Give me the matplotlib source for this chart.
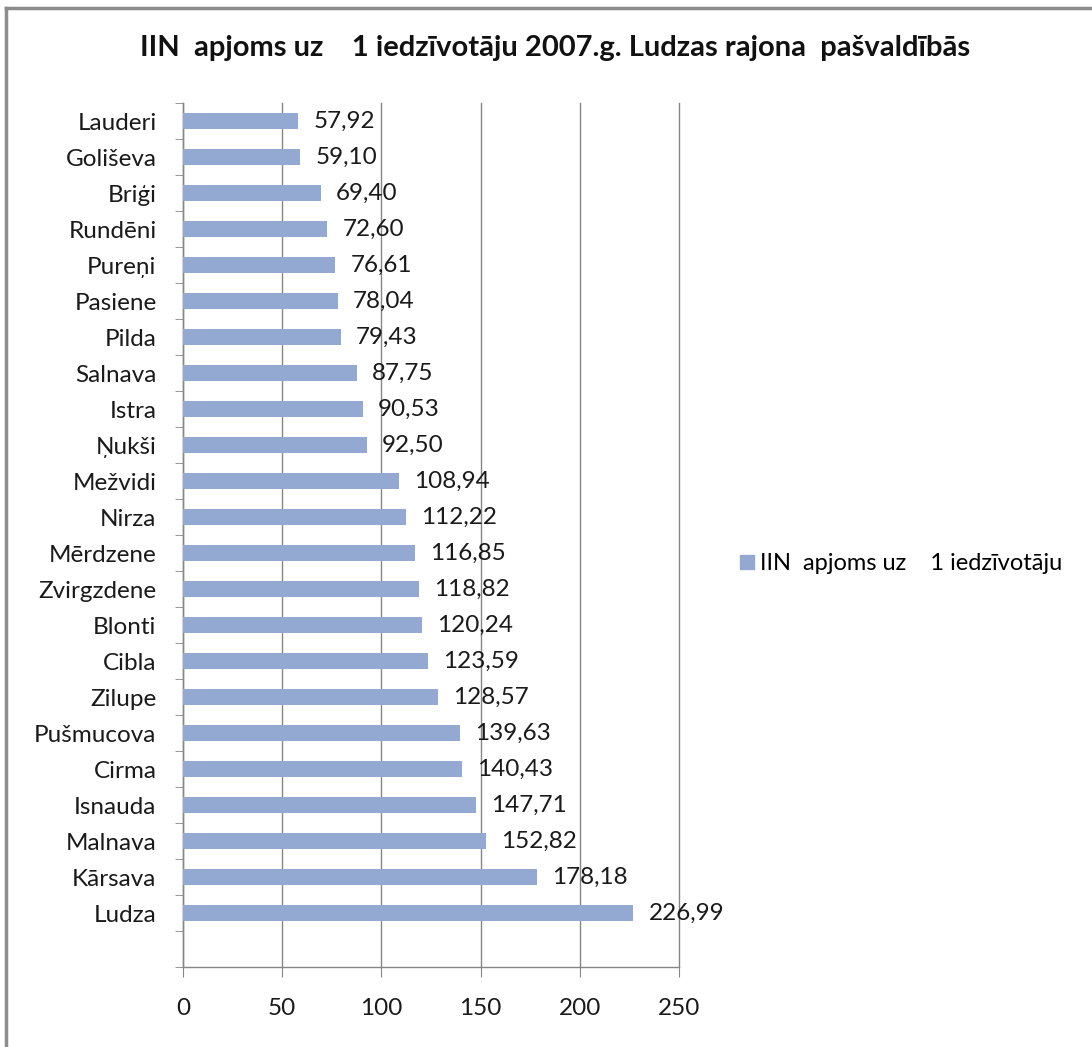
import numpy as np
import matplotlib.pyplot as plt
from matplotlib.lines import Line2D

plt.rcParams['font.family'] = ['Lato', 'DejaVu Sans']

# Data (top to bottom as shown)
municipalities = ["Lauderi", "Goliševa", "Briģi", "Rundēni", "Pureņi", "Pasiene",
                  "Pilda", "Salnava", "Istra", "Ņukši", "Mežvidi", "Nirza",
                  "Mērdzene", "Zvirgzdene", "Blonti", "Cibla", "Zilupe",
                  "Pušmucova", "Cirma", "Isnauda", "Malnava", "Kārsava", "Ludza"]
iin_per_capita = [57.92, 59.10, 69.40, 72.60, 76.61, 78.04, 79.43, 87.75, 90.53,
                  92.50, 108.94, 112.22, 116.85, 118.82, 120.24, 123.59, 128.57,
                  139.63, 140.43, 147.71, 152.82, 178.18, 226.99]
x_ticks = [0, 50, 100, 150, 200, 250]

title = "IIN  apjoms uz    1 iedzīvotāju 2007.g. Ludzas rajona  pašvaldībās"
series_name = "IIN  apjoms uz    1 iedzīvotāju"

bar_color = "#94A9D1"
axis_gray = "#868686"
text_color = "#1a1a1a"
fs = 17.5

fig = plt.figure(figsize=(10.92, 10.47), dpi=100)
ax = fig.add_axes([183 / 1092, 1 - 967 / 1047, (679 - 183) / 1092, (967 - 103) / 1047])

pos = np.arange(len(municipalities))
ax.barh(pos, iin_per_capita, height=0.42, color=bar_color, zorder=3)

for p, v in zip(pos, iin_per_capita):
    ax.annotate(f"{v:.2f}".replace(".", ","), (v, p), xytext=(11, 0),
                textcoords="offset points", va="center", ha="left",
                fontsize=fs, color=text_color, zorder=4)

# one empty slot below the last category
ax.set_ylim(len(municipalities) + 0.5, -0.5)
ax.set_xlim(0, 250)
ax.set_xticks(x_ticks)
ax.set_xticklabels([str(t) for t in x_ticks], fontsize=fs, color=text_color)
ax.set_yticks(pos)
ax.set_yticklabels(municipalities, fontsize=fs, color=text_color)
ax.set_yticks(np.arange(-0.5, len(municipalities) + 1, 1.0), minor=True)

ax.tick_params(axis="y", which="major", length=0, pad=19)
ax.tick_params(axis="y", which="minor", length=6, color=axis_gray, direction="out")
ax.tick_params(axis="x", length=7, color=axis_gray, direction="out", pad=15)

ax.grid(axis="x", color=axis_gray, linewidth=1, zorder=0)
for gl in ax.get_xgridlines():
    gl.set_clip_on(False)
for side in ["top", "right"]:
    ax.spines[side].set_visible(False)
for side in ["left", "bottom"]:
    ax.spines[side].set_color(axis_gray)
    ax.spines[side].set_linewidth(1)

fig.text(555 / 1092, 1 - 48 / 1047, title, ha="center", va="center",
         fontsize=21, fontweight="bold", color="#111111")

handle = Line2D([], [], marker="s", linestyle="none", markersize=10,
                markerfacecolor=bar_color, markeredgecolor=bar_color)
fig.legend([handle], [series_name], loc="center left",
           bbox_to_anchor=(725 / 1092, 1 - 564 / 1047), frameon=False,
           fontsize=17, handletextpad=0.1, borderpad=0, handlelength=0.9)

# chart border (only top and left edges visible in the crop)
fig.add_artist(Line2D([6 / 1092, 6 / 1092], [0, 1 - 8 / 1047],
                      transform=fig.transFigure, color="#8c8c8c", linewidth=2.5))
fig.add_artist(Line2D([6 / 1092, 1], [1 - 8 / 1047, 1 - 8 / 1047],
                      transform=fig.transFigure, color="#8c8c8c", linewidth=2.5))

fig.savefig("out.png", dpi=100)
